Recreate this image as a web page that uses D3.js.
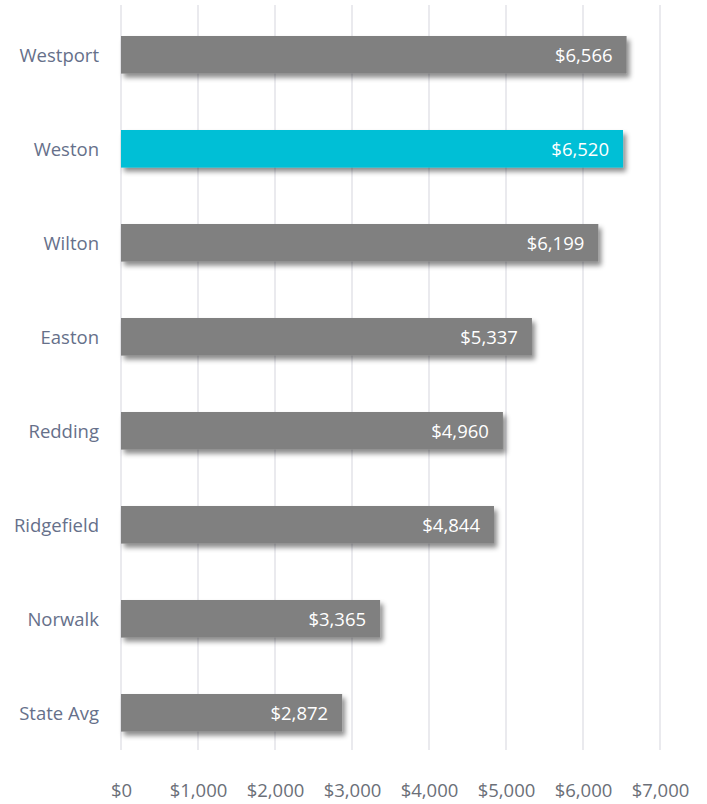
<!DOCTYPE html>
<html>
<head>
<meta charset="utf-8">
<script src="https://cdn.jsdelivr.net/npm/d3@7"></script>
<style>
  body { margin: 0; background: #fff; }
  svg { display: block; }
</style>
</head>
<body>
<svg id="mainFrame"></svg>
<script>
const towns = ["Westport", "Weston", "Wilton", "Easton", "Redding", "Ridgefield", "Norwalk", "State Avg"];
const spending = [6566, 6520, 6199, 5337, 4960, 4844, 3365, 2872];
const highlight = "Weston";
const ticks = [0, 1000, 2000, 3000, 4000, 5000, 6000, 7000];

const width = 707, height = 804;
const data = towns.map((t, i) => ({ name: t, value: spending[i] }));

const x = d3.scaleLinear()
    .domain([0, 7000])
    .range([121, 660]);

const y = d3.scaleBand()
    .domain(towns)
    .range([7.8, 759.8])
    .paddingInner(0.6)
    .paddingOuter(0.3);

const fmt = d => "$" + d3.format(",")(d);
const font = "'Open Sans', 'Noto Sans', sans-serif";

const svg = d3.select("#mainFrame")
    .attr("width", width)
    .attr("height", height)
    .attr("font-family", font);

// drop shadow under the bars
const defs = svg.append("defs");
defs.append("filter")
    .attr("id", "shadow")
    .attr("x", "-5%").attr("y", "-30%")
    .attr("width", "115%").attr("height", "180%")
    .append("feDropShadow")
    .attr("dx", 3).attr("dy", 4)
    .attr("stdDeviation", 2.5)
    .attr("flood-color", "#000")
    .attr("flood-opacity", 0.45);

// vertical gridlines
svg.append("g")
    .selectAll("line")
    .data(ticks)
    .join("line")
    .attr("x1", d => x(d)).attr("x2", d => x(d))
    .attr("y1", 5).attr("y2", 750)
    .attr("stroke", "#dcdce3")
    .attr("stroke-width", 1.2);

// x axis labels
const xAxis = d3.axisBottom(x).tickValues(ticks).tickFormat(fmt).tickSize(0).tickPadding(0);
svg.append("g")
    .attr("transform", "translate(0,784)")
    .call(xAxis)
    .call(g => g.select(".domain").remove())
    .call(g => g.selectAll("text")
        .attr("font-family", font)
        .attr("font-size", 18.5)
        .attr("fill", "#6b6f78"));

// y axis labels
const yAxis = d3.axisLeft(y).tickSize(0).tickPadding(0);
svg.append("g")
    .attr("transform", "translate(99,1)")
    .call(yAxis)
    .call(g => g.select(".domain").remove())
    .call(g => g.selectAll("text")
        .attr("font-family", font)
        .attr("font-size", 18.5)
        .attr("fill", "#66708a"));

const bar = svg.append("g")
    .selectAll("g")
    .data(data)
    .join("g");

bar.append("rect")
    .attr("x", x(0))
    .attr("y", d => y(d.name))
    .attr("width", d => x(d.value) - x(0))
    .attr("height", y.bandwidth())
    .attr("fill", d => d.name === highlight ? "#00bfd6" : "#808080")
    .attr("filter", "url(#shadow)");

bar.append("text")
    .attr("x", d => x(d.value) - 14)
    .attr("y", d => y(d.name) + y.bandwidth() / 2 + 1)
    .attr("dy", "0.35em")
    .attr("text-anchor", "end")
    .attr("font-size", 18.5)
    .attr("fill", "#fff")
    .text(d => fmt(d.value));
</script>
</body>
</html>
